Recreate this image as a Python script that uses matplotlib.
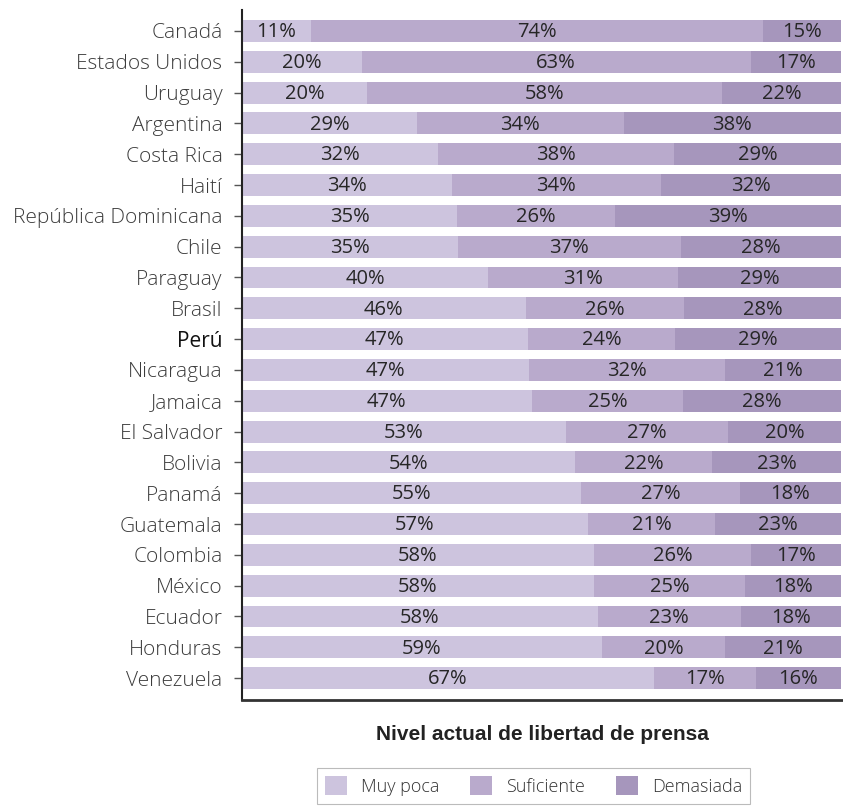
import matplotlib.pyplot as plt
import numpy as np

paises = ["Canadá", "Estados Unidos", "Uruguay", "Argentina", "Costa Rica", "Haití",
          "República Dominicana", "Chile", "Paraguay", "Brasil", "Perú", "Nicaragua",
          "Jamaica", "El Salvador", "Bolivia", "Panamá", "Guatemala", "Colombia",
          "México", "Ecuador", "Honduras", "Venezuela"]

# segment widths as drawn (share of bar, %)
muy_poca = [11.5, 20.0, 20.9, 29.2, 32.7, 35.0, 35.9, 36.0, 41.1, 47.4, 47.7,
            47.9, 48.4, 54.1, 55.6, 56.6, 57.8, 58.8, 58.8, 59.4, 60.1, 68.8]
suficiente = [75.5, 64.9, 59.3, 34.5, 39.5, 35.0, 26.4, 37.3, 31.7, 26.4, 24.6,
              32.7, 25.2, 27.1, 22.9, 26.5, 21.2, 26.1, 25.2, 23.9, 20.5, 17.0]
demasiada = [13.0, 15.1, 19.8, 36.3, 27.8, 30.0, 37.7, 26.7, 27.2, 26.2, 27.7,
             19.4, 26.4, 18.8, 21.5, 16.9, 21.0, 15.1, 16.0, 16.7, 19.4, 14.2]

# printed labels
lab_muy = [11, 20, 20, 29, 32, 34, 35, 35, 40, 46, 47, 47, 47, 53, 54, 55, 57, 58, 58, 58, 59, 67]
lab_suf = [74, 63, 58, 34, 38, 34, 26, 37, 31, 26, 24, 32, 25, 27, 22, 27, 21, 26, 25, 23, 20, 17]
lab_dem = [15, 17, 22, 38, 29, 32, 39, 28, 29, 28, 29, 21, 28, 20, 23, 18, 23, 17, 18, 18, 21, 16]

series = ["Muy poca", "Suficiente", "Demasiada"]
colores = ["#cdc4de", "#b9aacc", "#a696bc"]

fig = plt.figure(figsize=(8.43, 8.07), dpi=100)
ax = fig.add_axes([0.287, 0.1326, 0.712, 0.855])

y = np.arange(len(paises))
izq = np.zeros(len(paises))
for vals, labs, nombre, c in zip([muy_poca, suficiente, demasiada],
                                 [lab_muy, lab_suf, lab_dem], series, colores):
    vals = np.array(vals)
    ax.barh(y, vals, left=izq, height=0.71, color=c, label=nombre)
    for yi, l, w, v in zip(y, izq, vals, labs):
        ax.text(l + w / 2, yi + 0.04, f"{v}%", ha="center", va="center",
                fontsize=14.5, color="#262626", family="Open Sans")
    izq += vals

ax.set_xlim(0, 100.2)
ax.set_ylim(len(paises) - 1 + 0.71, -0.68)
ax.set_yticks(y)
ax.set_yticklabels(paises, family="Open Sans", fontsize=15, color="#3c3c3c",
                   fontweight="light")
for t in ax.get_yticklabels():
    if t.get_text() == "Perú":
        t.set_color("#111111")
        t.set_fontweight("normal")
ax.tick_params(axis="y", length=6, width=1, color="#555555", pad=8)
ax.tick_params(axis="x", bottom=False, labelbottom=False)
ax.spines["top"].set_visible(False)
ax.spines["right"].set_visible(False)
ax.spines["left"].set_color("#222222")
ax.spines["left"].set_linewidth(1.5)
ax.spines["bottom"].set_color("#333333")
ax.spines["bottom"].set_linewidth(2)

ax.set_xlabel("Nivel actual de libertad de prensa", family="Liberation Sans",
              fontweight="bold", fontsize=15, color="#222222", labelpad=18)

leg = fig.legend(loc="center", bbox_to_anchor=(0.633, 0.026), ncol=3,
                 frameon=True, fancybox=False, handlelength=1.2, handleheight=1.2,
                 columnspacing=1.7, handletextpad=0.8, borderpad=0.45,
                 prop={"family": "Open Sans", "size": 13, "weight": "light"})
leg.get_frame().set_edgecolor("#aaaaaa")
leg.get_frame().set_linewidth(0.8)
for t in leg.get_texts():
    t.set_color("#333333")

fig.savefig("out.png", dpi=100)
